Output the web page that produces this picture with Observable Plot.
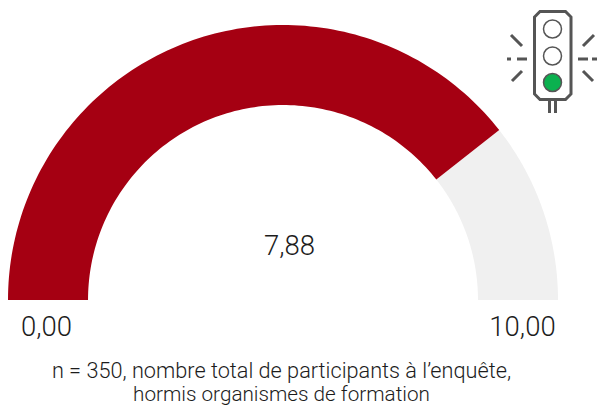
<!DOCTYPE html>
<html lang="fr">
<head>
<meta charset="utf-8">
<script src="https://cdn.jsdelivr.net/npm/d3@7"></script>
<script src="https://cdn.jsdelivr.net/npm/@observablehq/plot@0.6"></script>
<style>
  html, body { margin: 0; padding: 0; background: #fff; }
  svg { display: block; }
</style>
</head>
<body>
<div id="chart"></div>
<script>
// Score shown on the half-circle gauge
const score = 7.88;
const scaleMin = 0;
const scaleMax = 10;
const scoreLabel = "7,88";
const minLabel = "0,00";
const maxLabel = "10,00";
const noteLines = [
  "n = 350, nombre total de participants à l’enquête,",
  "hormis organismes de formation"
];
const segmentColors = ["#a50012", "#f0f0f0"];

// Ring thickness, as a share of the outer radius
const innerRadius = 0.709;

// One ribbon of the ring between two gauge values
function ribbon(from, to) {
  const steps = 120;
  return d3.range(steps + 1).map((i) => {
    const v = from + (to - from) * i / steps;
    const a = Math.PI * (1 - (v - scaleMin) / (scaleMax - scaleMin));
    return {
      x1: Math.cos(a), y1: Math.sin(a),
      x2: innerRadius * Math.cos(a), y2: innerRadius * Math.sin(a)
    };
  });
}

// Traffic-light pictogram with its green lamp lit
function trafficLight() {
  const ns = "http://www.w3.org/2000/svg";
  const g = document.createElementNS(ns, "g");
  g.innerHTML = `
    <g fill="none" stroke="#555">
      <path stroke-width="3" fill="#fff" d="M540 11.5H565.5L571 17V94L565.5 99.5H540L534.500 94V17Z"/>
      <circle cx="552.500" cy="29" r="9" stroke-width="1.500"/>
      <circle cx="552.500" cy="56" r="9" stroke-width="1.500"/>
      <circle cx="552.500" cy="82.500" r="9" stroke-width="1.500" fill="#0bb14f"/>
      <path stroke-width="3" d="M549.500 100V113M555.500 100V113"/>
      <path stroke-width="3" d="M511 35L522 46M512 81L522 71M594 35L583 46M593 81L583 71"/>
      <path stroke-width="3" d="M507 59H511M517 59H527M578 59H588M592 59H597"/>
    </g>`;
  return g;
}

const textStyle = { fill: "#1c1c1c", textAnchor: "middle" };

const chart = Plot.plot({
  width: 597,
  height: 405,
  margin: 0,
  x: { domain: [-1, 1], range: [8, 558], axis: null },
  y: { domain: [0, 1], range: [300, 25], axis: null },
  style: { background: "#fff", fontFamily: "Roboto, sans-serif", fontWeight: 300 },
  marks: [
    Plot.area(ribbon(score, scaleMax), { x1: "x1", y1: "y1", x2: "x2", y2: "y2", fill: segmentColors[1], curve: "linear" }),
    Plot.area(ribbon(scaleMin, score), { x1: "x1", y1: "y1", x2: "x2", y2: "y2", fill: segmentColors[0], curve: "linear" }),
    Plot.text([scoreLabel], { ...textStyle, x: 0, y: 0, dx: 6, dy: -54, fontSize: 27.5 }),
    Plot.text([minLabel], { ...textStyle, x: -1, y: 0, dx: 38, dy: 27, fontSize: 27.5 }),
    Plot.text([maxLabel], { ...textStyle, x: 1, y: 0, dx: -36, dy: 27, fontSize: 27.5 }),
    Plot.text([noteLines[0]], { ...textStyle, x: 0, y: 0, dx: -2, dy: 71, fontSize: 21.7 }),
    Plot.text([noteLines[1]], { ...textStyle, x: 0, y: 0, dx: -2, dy: 94, fontSize: 20.7 }),
    trafficLight
  ]
});
document.getElementById("chart").append(chart);
</script>
</body>
</html>
